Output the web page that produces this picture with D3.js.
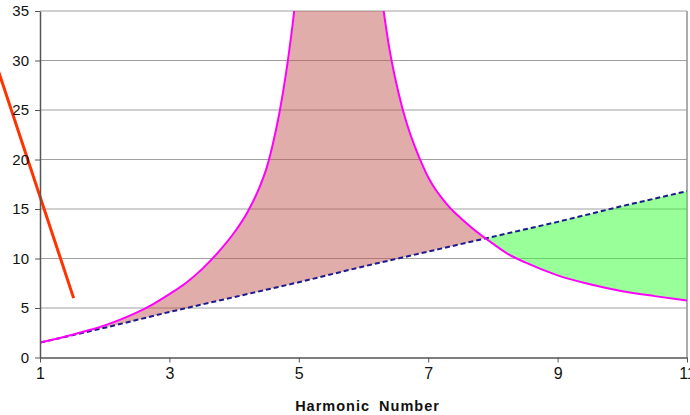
<!DOCTYPE html>
<html><head><meta charset="utf-8">
<script src="https://cdn.jsdelivr.net/npm/d3@7"></script>
<style>body{margin:0;background:#fff}svg{display:block}</style>
</head><body>
<script>
// Data
const limitH = [1,2,3,4,5,6,7,8,9,10,11];
const limitV = [1.5,3.0,4.6,6.1,7.6,9.2,10.7,12.2,13.7,15.3,16.8];

const curveH = [1,1.5,1.75,2,2.25,2.5,2.75,3,3.25,3.5,3.75,4,4.2,4.4,4.5,4.6,4.7,4.8,4.9,5,5.25,5.5,5.75,6,6.2,6.3,6.4,6.5,6.6,6.7,6.8,6.9,7,7.1,7.2,7.3,7.4,7.5,7.75,8,8.25,8.5,9,9.5,10,10.5,11];
const curveV = [1.5,2.3,2.75,3.25,3.85,4.55,5.4,6.4,7.5,8.9,10.6,12.6,14.6,17.3,19.1,21.6,24.7,28.6,33.4,39,50,60,58,48,40,35.5,31.2,27.9,25.2,23.0,21.2,19.6,18.2,17.1,16.2,15.4,14.7,14.1,12.7,11.5,10.4,9.6,8.3,7.4,6.7,6.2,5.75];

const slopeH = [0, 1.52];
const slopeV = [36, 6.0];

const xTicks = [1,3,5,7,9,11];
const yTicks = [0,5,10,15,20,25,30,35];

const W = 690, H = 415;
const m = {l:40, r:3, t:11, b:57.5};
const x = d3.scaleLinear().domain([1,11]).range([m.l, W-m.r]);
const y = d3.scaleLinear().domain([0,35]).range([H-m.b, m.t]);

const svg = d3.select("body").append("svg").attr("width",W).attr("height",H);
svg.append("defs").append("clipPath").attr("id","plot")
  .append("rect").attr("x",x(1)).attr("y",y(35)).attr("width",x(11)-x(1)).attr("height",y(0)-y(35));

// gridlines
svg.append("g").selectAll("line").data(yTicks.filter(d=>d>0)).join("line")
  .attr("x1",x(1)).attr("x2",x(11)).attr("y1",d=>y(d)).attr("y2",d=>y(d))
  .attr("stroke","#a0a0a0").attr("stroke-width",1);
// right border
svg.append("line").attr("x1",x(11)).attr("x2",x(11)).attr("y1",y(35)).attr("y2",y(0))
  .attr("stroke","#909090").attr("stroke-width",1.5);

const interp = (hs, vs) => h => {
  for (let i=0;i<hs.length-1;i++){
    if (h>=hs[i] && h<=hs[i+1]) { const t=(h-hs[i])/(hs[i+1]-hs[i]); return vs[i]+t*(vs[i+1]-vs[i]); }
  }
  return vs[vs.length-1];
};
const lim = interp(limitH, limitV);
const pts = curveH.map((h,i)=>({h, c:curveV[i], l:lim(h)}));
let cross = null;
for (let i=0;i<pts.length-1;i++){
  const a=pts[i], b=pts[i+1];
  const da=a.c-a.l, db=b.c-b.l;
  if (da>0 && db<=0){ const t=da/(da-db); cross={h:a.h+t*(b.h-a.h)}; cross.c=a.c+t*(b.c-a.c); cross.l=cross.c; break; }
}
const upper = pts.filter(p=>p.h<cross.h).concat([cross]);
const lower = [cross].concat(pts.filter(p=>p.h>cross.h));

const g = svg.append("g").attr("clip-path","url(#plot)");
const area = d3.area().x(d=>x(d.h)).y0(d=>y(d.l)).y1(d=>y(d.c)).curve(d3.curveMonotoneX);
g.append("path").datum(upper).attr("d",area).attr("fill","#c0504d").attr("fill-opacity",0.47);
g.append("path").datum(lower).attr("d",area).attr("fill","#33ff33").attr("fill-opacity",0.5);

g.append("path").datum(limitH.map((h,i)=>[h,limitV[i]]))
  .attr("d",d3.line().x(d=>x(d[0])).y(d=>y(d[1])))
  .attr("fill","none").attr("stroke","#1a1a8c").attr("stroke-width",2).attr("stroke-dasharray","5,3");
g.append("path").datum(curveH.map((h,i)=>[h,curveV[i]]))
  .attr("d",d3.line().x(d=>x(d[0])).y(d=>y(d[1])).curve(d3.curveMonotoneX))
  .attr("fill","none").attr("stroke","#ff00ff").attr("stroke-width",2);

svg.append("path").datum(slopeH.map((h,i)=>[h,slopeV[i]]))
  .attr("d",d3.line().x(d=>x(d[0])).y(d=>y(d[1])))
  .attr("stroke","#ff3300").attr("stroke-width",3).attr("fill","none");

const yAxis = svg.append("g").attr("transform",`translate(${x(1)},0)`)
  .call(d3.axisLeft(y).tickValues(yTicks).tickSize(5).tickSizeOuter(0).tickPadding(6));
yAxis.select(".domain").attr("stroke","#555").attr("stroke-width",1.5);
yAxis.selectAll(".tick line").attr("stroke","#555");
yAxis.selectAll("text").attr("font-family","Liberation Sans, Arial, sans-serif").attr("font-size",15).attr("fill","#111");

const xAxis = svg.append("g").attr("transform",`translate(0,${y(0)})`)
  .call(d3.axisBottom(x).tickValues(xTicks).tickFormat(d3.format("d")).tickSize(5).tickSizeOuter(0).tickPadding(5));
xAxis.select(".domain").attr("stroke","#555").attr("stroke-width",1.5);
xAxis.selectAll(".tick line").attr("stroke","#555");
xAxis.selectAll("text").attr("font-family","Liberation Sans, Arial, sans-serif").attr("font-size",16).attr("fill","#111");

svg.append("text").attr("x",(x(1)+x(11))/2 + 4).attr("y",411)
  .attr("text-anchor","middle").attr("font-family","Liberation Sans, Arial, sans-serif")
  .attr("font-weight","bold").attr("font-size",14.5).attr("word-spacing","4px").attr("letter-spacing","1px")
  .attr("fill","#111").text("Harmonic Number");
</script>
</body></html>
